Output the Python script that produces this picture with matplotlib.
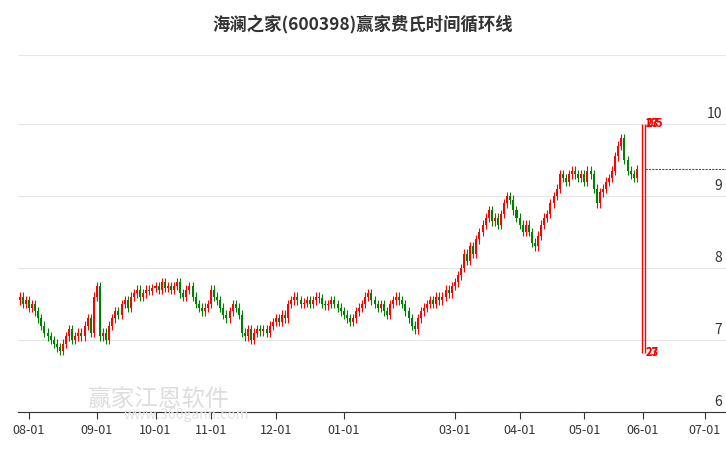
import numpy as np
import pandas as pd
import matplotlib.pyplot as plt

plt.rcParams['font.family'] = ['Noto Sans CJK SC', 'DejaVu Sans']

title = '海澜之家(600398)赢家费氏时间循环线'

# daily closes, Jul 25 2024 .. May 28 2025
close_jul = [7.45, 7.55, 7.6, 7.5, 7.55]
close_aug = [7.45, 7.5, 7.4, 7.3, 7.2, 7.1, 7.05, 7.0, 6.95, 6.9, 6.85, 6.95, 7.05, 7.15, 7.0,
             7.05, 7.1, 7.05, 7.2, 7.3, 7.1, 7.6]
close_sep = [7.75, 7.05, 7.1, 7.0, 7.2, 7.3, 7.4, 7.35, 7.5, 7.55, 7.45, 7.6, 7.65, 7.7, 7.6,
             7.65, 7.7, 7.68, 7.72]
close_oct = [7.75, 7.7, 7.8, 7.72, 7.75, 7.7, 7.75, 7.8, 7.65, 7.6, 7.7, 7.75, 7.6, 7.5, 7.45,
             7.4, 7.45, 7.5]
close_nov = [7.7, 7.6, 7.55, 7.45, 7.35, 7.3, 7.4, 7.5, 7.45, 7.35, 7.1, 7.05, 7.15, 7.0, 7.1,
             7.15, 7.12, 7.15, 7.1, 7.2, 7.25]
close_dec = [7.3, 7.25, 7.35, 7.3, 7.5, 7.55, 7.6, 7.55, 7.5, 7.52, 7.55, 7.5, 7.55, 7.6, 7.58,
             7.5, 7.48, 7.5, 7.55, 7.5, 7.45, 7.4]
close_jan = [7.35, 7.3, 7.25, 7.3, 7.4, 7.45, 7.5, 7.6, 7.65, 7.55, 7.5, 7.45, 7.5, 7.4, 7.35,
             7.5, 7.55, 7.6, 7.55]
close_feb = [7.5, 7.4, 7.3, 7.2, 7.15, 7.3, 7.4, 7.45, 7.5, 7.55, 7.5, 7.6, 7.55, 7.6, 7.7,
             7.65, 7.75, 7.8]
close_mar = [7.9, 8.0, 8.2, 8.1, 8.3, 8.2, 8.4, 8.5, 8.6, 8.7, 8.8, 8.65, 8.7, 8.6, 8.75,
             8.9, 9.0, 8.95, 8.8, 8.7, 8.6]
close_apr = [8.5, 8.6, 8.5, 8.35, 8.3, 8.45, 8.6, 8.7, 8.75, 8.9, 9.0, 9.1, 9.3, 9.25, 9.2,
             9.3, 9.35, 9.3, 9.25, 9.3, 9.2]
close_may = [9.35, 9.3, 9.1, 8.9, 9.05, 9.1, 9.2, 9.25, 9.35, 9.55, 9.7, 9.8, 9.5, 9.35, 9.3,
             9.25, 9.37]
closes = (close_jul + close_aug + close_sep + close_oct + close_nov + close_dec + close_jan
          + close_feb + close_mar + close_apr + close_may)

month_labels = ['08-01', '09-01', '10-01', '11-01', '12-01', '01-01', '03-01', '04-01',
                '05-01', '06-01', '07-01']
month_dates = ['2024-08-01', '2024-09-01', '2024-10-01', '2024-11-01', '2024-12-01',
               '2025-01-01', '2025-03-01', '2025-04-01', '2025-05-01', '2025-06-01', '2025-07-01']
yticks = [6, 7, 8, 9, 10]
cycle_top_labels = ['0.5', '27', '23']
cycle_bottom_labels = ['23', '27']
cycle_low = 6.82

holidays = pd.to_datetime(['2024-09-16', '2024-09-17', '2024-10-01', '2024-10-02', '2024-10-03',
                           '2024-10-04', '2024-10-07', '2025-01-01', '2025-01-28', '2025-01-29',
                           '2025-01-30', '2025-01-31', '2025-02-03', '2025-02-04', '2025-04-04',
                           '2025-05-01', '2025-05-02', '2025-05-05', '2025-06-02'])
days = pd.bdate_range('2024-07-25', '2025-07-15')
days = days[~days.isin(holidays)]

fig = plt.figure(figsize=(7.26, 4.5), dpi=100)
ax = fig.add_axes([18 / 726, 1 - 412 / 450, 1 - 18 / 726, (412 - 55) / 450])

opens = [closes[0]] + closes[:-1]
for i, (o, c) in enumerate(zip(opens, closes)):
    col = 'red' if c >= o else 'green'
    lo, hi = min(o, c), max(o, c)
    ax.vlines(i, lo - 0.06, hi + 0.06, color=col, lw=0.8)
    ax.bar(i, max(hi - lo, 0.02), bottom=lo, width=0.65, color=col)

last = len(closes) - 1
ax.plot([last + 2.5, 260], [closes[-1]] * 2, color='#2e6b2e', ls=(0, (2, 1)), lw=0.8)
for dx in (1.7, 2.7):
    ax.vlines(last + dx, cycle_low, 10.0, color='red', lw=1)
for t in cycle_top_labels:
    ax.text(last + 3.0, 10.0, t, color='red', fontsize=8, va='center', fontweight='bold')
for t in cycle_bottom_labels:
    ax.text(last + 3.0, cycle_low, t, color='red', fontsize=8, va='center', fontweight='bold')

ticks = [days.searchsorted(pd.Timestamp(d)) for d in month_dates]
ax.set_xticks(ticks)
ax.set_xticklabels(month_labels, fontsize=9, color='#333333')
ax.tick_params(axis='x', length=5, color='#333333')
ppd = 614 / (ticks[9] - ticks[0])
left = ticks[0] - 11 / ppd
ax.set_xlim(left, left + 708 / ppd)
ax.set_ylim(6, 6 + (412 - 55) / 72)
ax.set_yticks([])
for y in yticks + [10.96]:
    ax.axhline(y, color='#e6e6e6', lw=0.8, zorder=0)
    if y in yticks:
        ax.text(0.995, y + 0.04, str(y), transform=ax.get_yaxis_transform(), ha='right',
                va='bottom', fontsize=10, color='#333333')
for s in ['top', 'right', 'left']:
    ax.spines[s].set_visible(False)
ax.spines['bottom'].set_color('#333333')

fig.text(0.12, 0.095, '赢家江恩软件', fontsize=17, color='#dddddd', zorder=0)
fig.text(0.17, 0.07, 'www.360gann.com', fontsize=10, color='#e3e3e3', zorder=0)
fig.text(0.5, 0.935, title, ha='center', fontsize=12.5, fontweight='bold', color='#333333')

fig.savefig('out.png')
